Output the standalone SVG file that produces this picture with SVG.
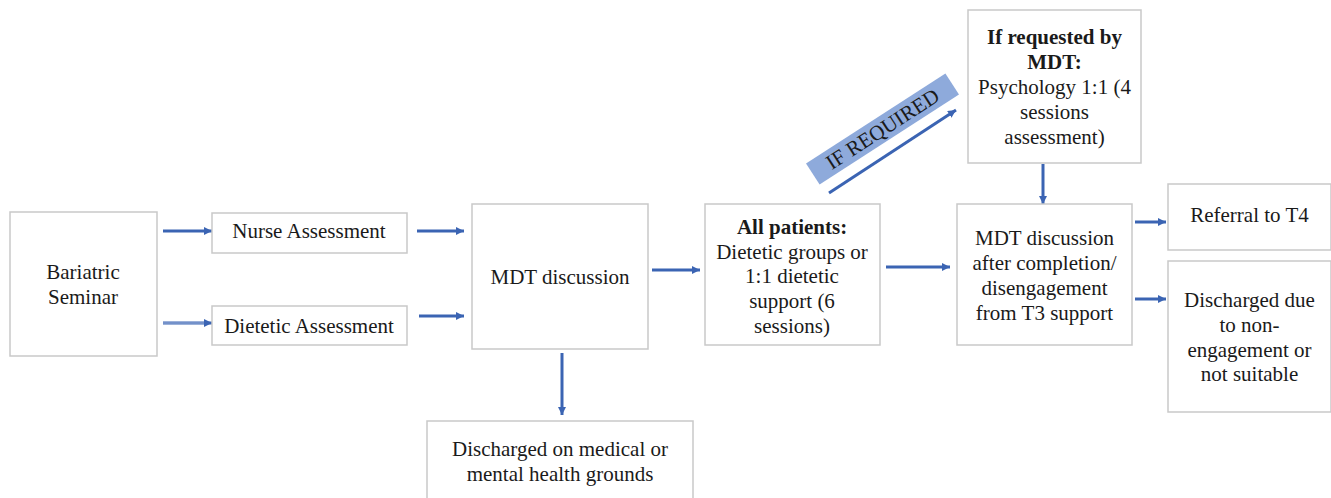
<svg xmlns="http://www.w3.org/2000/svg" width="1331" height="498" viewBox="0 0 1331 498">
<style>
.box{fill:#ffffff;stroke:#c9c9c9;stroke-width:1.5}
text{font-family:'Liberation Serif','Times New Roman','DejaVu Serif',serif;font-size:21px;fill:#1a1a1a;text-anchor:middle}
.b{font-weight:bold}
.c{stroke:#3b64b3;stroke-width:3;fill:none}
</style>
<defs>
<marker id="ah" markerUnits="userSpaceOnUse" markerWidth="10" markerHeight="10" refX="8" refY="4" orient="auto">
<path d="M0,0 L8,4 L0,8 z" fill="#3b64b3"/>
</marker>
</defs>
<rect width="1331" height="498" fill="#ffffff"/>
<g id="connectors">
<line class="c" x1="163" y1="231" x2="212" y2="231" marker-end="url(#ah)"/>
<line class="c" x1="163" y1="323" x2="212" y2="323" stroke-width="5" marker-end="url(#ah)"/>
<line x1="163" y1="323" x2="204" y2="323" stroke="#c9d4ec" stroke-width="0.8"/>
<line class="c" x1="417" y1="231" x2="464" y2="231" marker-end="url(#ah)"/>
<line class="c" x1="419" y1="316" x2="464" y2="316" marker-end="url(#ah)"/>
<line class="c" x1="652" y1="270" x2="700" y2="270" marker-end="url(#ah)"/>
<line class="c" x1="886" y1="267" x2="950" y2="267" marker-end="url(#ah)"/>
<line class="c" x1="562" y1="353" x2="562" y2="415" marker-end="url(#ah)"/>
<line class="c" x1="1043" y1="164" x2="1043" y2="204" marker-end="url(#ah)"/>
<line class="c" x1="1135" y1="222" x2="1166" y2="222" marker-end="url(#ah)"/>
<line class="c" x1="1135" y1="299" x2="1166" y2="299" marker-end="url(#ah)"/>
<line class="c" x1="829" y1="193" x2="956" y2="110" marker-end="url(#ah)"/>
<g transform="translate(882.5,129) rotate(-32.9)">
<rect x="-83" y="-12.5" width="166" height="25" fill="#8eaadb"/>
<text x="0" y="7" font-family="Liberation Serif, serif" font-size="20">IF REQUIRED</text>
</g>
</g>
<g id="bariatric" font-family="Liberation Serif, serif">
<rect class="box" x="10" y="212" width="147" height="144"/>
<text x="83" y="279">Bariatric</text>
<text x="83" y="304">Seminar</text>
</g>
<g id="nurse">
<rect class="box" x="212" y="213" width="195" height="40"/>
<text x="309" y="238">Nurse Assessment</text>
</g>
<g id="dietetic">
<rect class="box" x="212" y="306" width="195" height="39"/>
<text x="309" y="333">Dietetic Assessment</text>
</g>
<g id="mdt1">
<rect class="box" x="472" y="204" width="176" height="145"/>
<text x="560" y="284">MDT discussion</text>
</g>
<g id="allpatients">
<rect class="box" x="705" y="204" width="175" height="141"/>
<text class="b" x="792" y="234">All patients:</text>
<text x="792" y="259">Dietetic groups or</text>
<text x="792" y="283">1:1 dietetic</text>
<text x="792" y="308">support (6</text>
<text x="792" y="333">sessions)</text>
</g>
<g id="psychology">
<rect class="box" x="968" y="10" width="173" height="153"/>
<text class="b" x="1054.5" y="44">If requested by</text>
<text class="b" x="1054.5" y="69">MDT:</text>
<text x="1054.5" y="94">Psychology 1:1 (4</text>
<text x="1054.5" y="119">sessions</text>
<text x="1054.5" y="144">assessment)</text>
</g>
<g id="mdt2">
<rect class="box" x="957" y="204" width="175" height="141"/>
<text x="1044.5" y="245">MDT discussion</text>
<text x="1044.5" y="270">after completion/</text>
<text x="1044.5" y="295">disengagement</text>
<text x="1044.5" y="320">from T3 support</text>
</g>
<g id="referral">
<rect class="box" x="1168" y="184" width="163" height="66"/>
<text x="1249.5" y="222">Referral to T4</text>
</g>
<g id="discharged-nonengagement">
<rect class="box" x="1168" y="261" width="163" height="151"/>
<text x="1249.5" y="307">Discharged due</text>
<text x="1249.5" y="332">to non-</text>
<text x="1249.5" y="357">engagement or</text>
<text x="1249.5" y="381">not suitable</text>
</g>
<g id="discharged-medical">
<rect class="box" x="427" y="421" width="266" height="85"/>
<text x="560" y="456">Discharged on medical or</text>
<text x="560" y="481">mental health grounds</text>
</g>
</svg>
